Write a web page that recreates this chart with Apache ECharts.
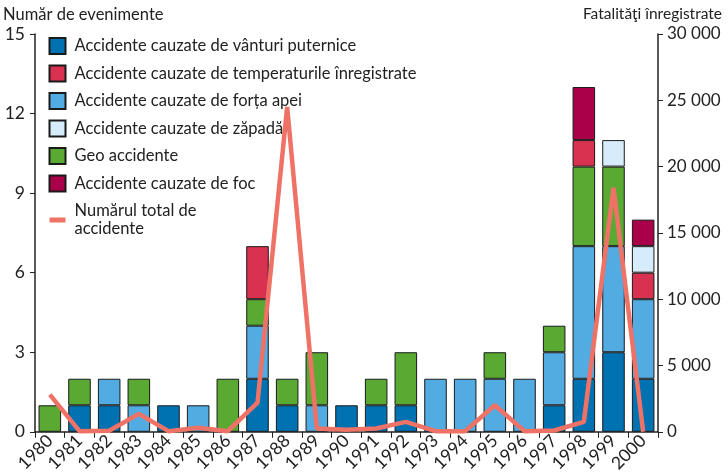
<!DOCTYPE html>
<html>
<head>
<meta charset="utf-8">
<script src="https://cdn.jsdelivr.net/npm/echarts@6/dist/echarts.min.js"></script>
<style>
  html, body { margin: 0; padding: 0; background: #fff; }
  #chart { width: 728px; height: 475px; }
</style>
</head>
<body>
<div id="chart"></div>
<script>
// date
var years = ['1980','1981','1982','1983','1984','1985','1986','1987','1988','1989','1990',
             '1991','1992','1993','1994','1995','1996','1997','1998','1999','2000'];
var vant        = [null,1,1,null,1,null,null,2,1,null,1,1,1,null,null,null,null,1,2,3,2];
var apa         = [null,null,1,1,null,1,null,2,null,1,null,null,null,2,2,2,2,2,5,4,3];
var geo         = [1,1,null,1,null,null,2,1,1,2,null,1,2,null,null,1,null,1,3,3,null];
var temperatura = [null,null,null,null,null,null,null,2,null,null,null,null,null,null,null,null,null,null,1,null,1];
var zapada      = [null,null,null,null,null,null,null,null,null,null,null,null,null,null,null,null,null,null,null,1,1];
var foc         = [null,null,null,null,null,null,null,null,null,null,null,null,null,null,null,null,null,null,2,null,1];
var fatalitati  = [2800,50,80,1350,50,300,50,2200,24500,250,150,250,750,50,50,2000,50,100,750,18400,0];

var fontName = 'Lato';
var chart = echarts.init(document.getElementById('chart'));

function bara(nume, culoare, valori) {
  return {
    name: nume,
    type: 'bar',
    stack: 'total',
    barWidth: '76%',
    data: valori,
    itemStyle: { color: culoare, borderColor: '#1a1a1a', borderWidth: 1 }
  };
}

var option = {
  animation: false,
  textStyle: { fontFamily: fontName },
  grid: { left: 35, right: 70, top: 34, bottom: 42 },
  legend: {
    orient: 'vertical',
    left: 47,
    top: 37,
    padding: 0,
    itemWidth: 16,
    itemHeight: 16,
    itemGap: 9.5,
    textStyle: { fontFamily: fontName, fontSize: 16.5, color: '#222', lineHeight: 18, padding: [0, 0, 0, 4] },
    data: [
      { name: 'Accidente cauzate de vânturi puternice', icon: 'rect' },
      { name: 'Accidente cauzate de temperaturile înregistrate', icon: 'rect' },
      { name: 'Accidente cauzate de forța apei', icon: 'rect' },
      { name: 'Accidente cauzate de zăpadă', icon: 'rect' },
      { name: 'Geo accidente', icon: 'rect' },
      { name: 'Accidente cauzate de foc', icon: 'rect' },
      { name: 'Numărul total de\naccidente', itemStyle: { opacity: 0 }, lineStyle: { width: 5, color: '#ef7267' } }
    ]
  },
  graphic: [
    { type: 'text', left: 3, top: 6, style: { text: 'Număr de evenimente', font: '16.5px ' + fontName, fill: '#222' } },
    { type: 'text', right: 6, top: 6, style: { text: 'Fatalităţi înregistrate', font: '15.5px ' + fontName, fill: '#222' } }
  ],
  xAxis: {
    type: 'category',
    data: years,
    axisLine: { lineStyle: { color: '#222', width: 1.5 } },
    axisTick: { show: true, length: 6, lineStyle: { color: '#222' } },
    axisLabel: { rotate: 45, fontSize: 17.5, color: '#222', margin: 6, interval: 0 }
  },
  yAxis: [
    {
      type: 'value', min: 0, max: 15, interval: 3,
      axisLine: { show: true, lineStyle: { color: '#222', width: 1.5 } },
      axisTick: { show: true, length: 5, lineStyle: { color: '#222' } },
      axisLabel: { fontSize: 17.5, color: '#222', margin: 10 },
      splitLine: { show: false }
    },
    {
      type: 'value', min: 0, max: 30000, interval: 5000,
      axisLine: { show: true, lineStyle: { color: '#222', width: 1.5 } },
      axisTick: { show: true, length: 5, lineStyle: { color: '#222' } },
      axisLabel: {
        fontSize: 17, color: '#222', margin: 9,
        formatter: function (v) { return v >= 1000 ? Math.floor(v / 1000) + ' ' + ('00' + (v % 1000)).slice(-3) : String(v); }
      },
      splitLine: { show: false }
    }
  ],
  series: [
    bara('Accidente cauzate de vânturi puternice', '#0071b1', vant),
    bara('Accidente cauzate de forța apei', '#52abe1', apa),
    bara('Geo accidente', '#59a932', geo),
    bara('Accidente cauzate de temperaturile înregistrate', '#d93150', temperatura),
    bara('Accidente cauzate de zăpadă', '#d7ecfa', zapada),
    bara('Accidente cauzate de foc', '#a90049', foc),
    {
      name: 'Numărul total de\naccidente',
      type: 'line',
      yAxisIndex: 1,
      data: fatalitati,
      symbol: 'none',
      lineStyle: { color: '#ef7267', width: 4.5 },
      itemStyle: { color: '#ef7267' }
    }
  ]
};

chart.setOption(option);
</script>
</body>
</html>
